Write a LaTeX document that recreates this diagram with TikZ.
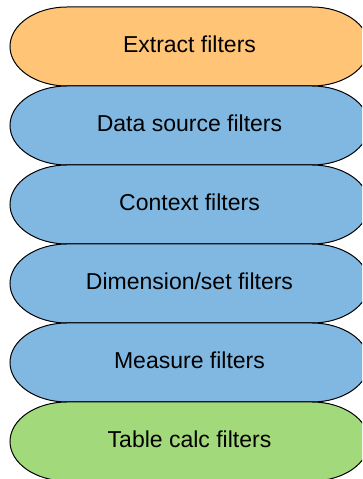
\documentclass[tikz,border=0pt]{standalone}
\usepackage{fontspec}
\setmainfont{Liberation Sans}
\definecolor{extractorange}{RGB}{255,196,117}
\definecolor{filterblue}{RGB}{128,184,226}
\definecolor{calcgreen}{RGB}{162,217,122}

\begin{document}
\begin{tikzpicture}[x=1pt,y=1pt,
  filterband/.style={draw=black,line width=1pt},
  filtertext/.style={font=\fontsize{23}{28}\selectfont,text=black}]

%% frame
\useasboundingbox (0,0) rectangle (362,479);
\clip (0,0) rectangle (362,479);

%% bands, top to bottom
% extract
\draw [filterband,fill=extractorange] (67,472) -- (312,472) arc[start angle=90,end angle=-90,x radius=57,y radius=39.5] -- (67,393) arc[start angle=270,end angle=90,x radius=57,y radius=39.5] -- cycle;
% data source
\draw [filterband,fill=filterblue] (67,393) -- (312,393) arc[start angle=90,end angle=-90,x radius=57,y radius=39.5] -- (67,314) arc[start angle=270,end angle=90,x radius=57,y radius=39.5] -- cycle;
% context
\draw [filterband,fill=filterblue] (67,314) -- (312,314) arc[start angle=90,end angle=-90,x radius=57,y radius=39.5] -- (67,235) arc[start angle=270,end angle=90,x radius=57,y radius=39.5] -- cycle;
% dimension/set
\draw [filterband,fill=filterblue] (67,235) -- (312,235) arc[start angle=90,end angle=-90,x radius=57,y radius=39.5] -- (67,156) arc[start angle=270,end angle=90,x radius=57,y radius=39.5] -- cycle;
% measure
\draw [filterband,fill=filterblue] (67,156) -- (312,156) arc[start angle=90,end angle=-90,x radius=57,y radius=39.5] -- (67,77) arc[start angle=270,end angle=90,x radius=57,y radius=39.5] -- cycle;
% table calc
\draw [filterband,fill=calcgreen] (67,77) -- (312,77) arc[start angle=90,end angle=-90,x radius=57,y radius=39.5] -- (67,-2) arc[start angle=270,end angle=90,x radius=57,y radius=39.5] -- cycle;

%% labels
\node [filtertext] (extract) at (189.5,435) {Extract filters};
\node [filtertext] (datasource) at (189.5,356) {Data source filters};
\node [filtertext] (context) at (189.5,277) {Context filters};
\node [filtertext] (dimension) at (189.5,198) {Dimension/set filters};
\node [filtertext] (measure) at (189.5,119) {Measure filters};
\node [filtertext] (tablecalc) at (189.5,40) {Table calc filters};

\end{tikzpicture}
\end{document}
